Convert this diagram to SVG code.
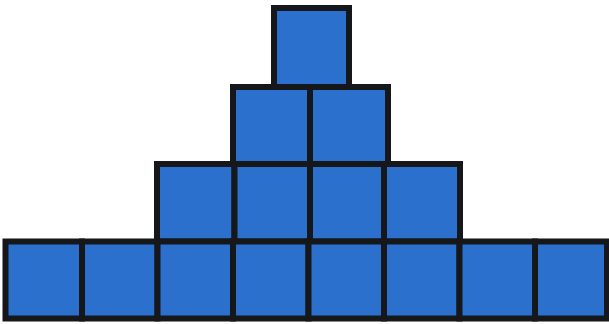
<svg xmlns="http://www.w3.org/2000/svg" width="609" height="324" viewBox="0 0 609 324">
<style>
.sq{fill:#2a70cc;stroke:#15171a;stroke-width:6;stroke-linejoin:miter}
</style>
<rect width="609" height="324" fill="#ffffff"/>
<g id="row1">
<g id="r1c1"><rect class="sq" x="274" y="8" width="75" height="79"/></g>
</g>
<g id="row2">
<g id="r2c1"><rect class="sq" x="233" y="87" width="77" height="77"/></g>
<g id="r2c2"><rect class="sq" x="310" y="87" width="78" height="77"/></g>
</g>
<g id="row3">
<g id="r3c1"><rect class="sq" x="157" y="164" width="77.5" height="77.5"/></g>
<g id="r3c2"><rect class="sq" x="234.5" y="164" width="75.5" height="77.5"/></g>
<g id="r3c3"><rect class="sq" x="310" y="164" width="74" height="77.5"/></g>
<g id="r3c4"><rect class="sq" x="384" y="164" width="76" height="77.5"/></g>
</g>
<g id="row4">
<g id="r4c1"><rect class="sq" x="5.5" y="241.5" width="76.5" height="77"/></g>
<g id="r4c2"><rect class="sq" x="82" y="241.5" width="75.5" height="77"/></g>
<g id="r4c3"><rect class="sq" x="157.5" y="241.5" width="75.5" height="77"/></g>
<g id="r4c4"><rect class="sq" x="233" y="241.5" width="75.5" height="77"/></g>
<g id="r4c5"><rect class="sq" x="308.5" y="241.5" width="75.5" height="77"/></g>
<g id="r4c6"><rect class="sq" x="384" y="241.5" width="75.5" height="77"/></g>
<g id="r4c7"><rect class="sq" x="459.5" y="241.5" width="75.5" height="77"/></g>
<g id="r4c8"><rect class="sq" x="535" y="241.5" width="72" height="77"/></g>
</g>
</svg>
